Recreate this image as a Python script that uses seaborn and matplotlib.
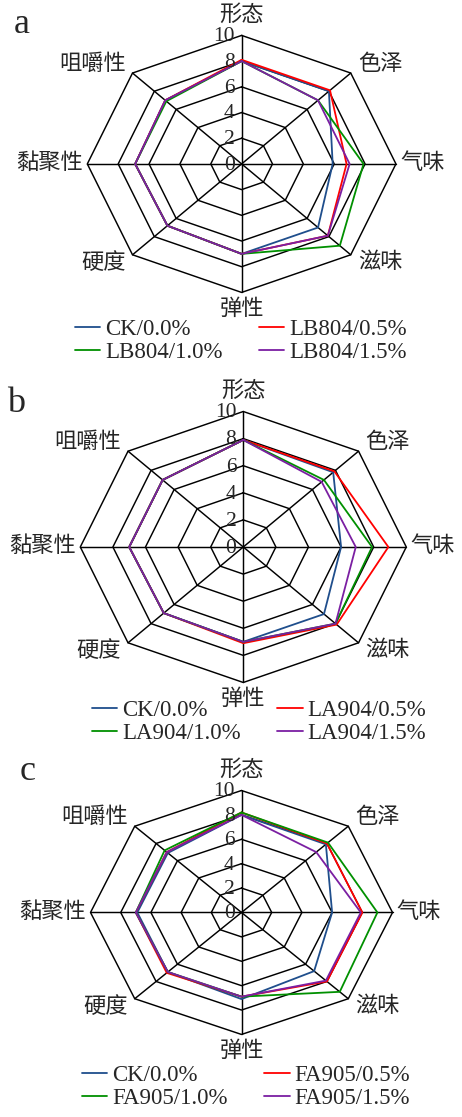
import numpy as np
import pandas as pd
import matplotlib
matplotlib.use('Agg')  # no display
import matplotlib.pyplot as plt
import seaborn as sns
from matplotlib.lines import Line2D

# ── Data ────────────────────────────────────────────────────────────────
categories = ['形态', '色泽', '气味', '滋味', '弹性', '硬度', '黏聚性', '咀嚼性']
rings = [0, 2, 4, 6, 8, 10]

a_labels = ['CK/0.0%', 'LB804/0.5%', 'LB804/1.0%', 'LB804/1.5%']
a_ck = [8.0, 8.0, 5.9, 7.0, 7.0, 6.8, 6.9, 7.0]
a_05 = [8.1, 8.1, 6.8, 7.9, 7.0, 6.8, 6.9, 7.0]
a_10 = [8.0, 7.0, 7.9, 9.0, 7.0, 6.8, 6.9, 6.9]
a_15 = [8.0, 7.0, 7.0, 7.9, 7.0, 6.8, 6.9, 7.0]

b_labels = ['CK/0.0%', 'LA904/0.5%', 'LA904/1.0%', 'LA904/1.5%']
b_ck = [7.9, 7.8, 6.0, 7.0, 7.0, 6.9, 7.0, 7.0]
b_05 = [7.9, 7.9, 8.9, 8.1, 7.1, 6.9, 7.0, 7.0]
b_10 = [7.9, 7.0, 7.9, 8.0, 7.0, 6.9, 7.0, 7.0]
b_15 = [7.9, 6.8, 6.9, 8.0, 7.0, 6.9, 7.0, 7.0]

c_labels = ['CK/0.0%', 'FA905/0.5%', 'FA905/1.0%', 'FA905/1.5%']
c_ck = [8.0, 7.9, 6.0, 6.8, 7.1, 6.9, 6.9, 6.9]
c_05 = [8.2, 8.0, 8.0, 8.0, 6.9, 7.0, 7.0, 7.0]
c_10 = [8.2, 8.1, 9.0, 9.2, 6.9, 6.9, 7.0, 7.2]
c_15 = [8.0, 7.0, 7.9, 7.9, 6.9, 6.9, 7.0, 7.0]

colors = ['#1F4E8C', '#FF0000', '#009000', '#7B1FA2']

# ── Style ───────────────────────────────────────────────────────────────
sns.set_theme(style='white')
plt.rcParams['font.family'] = ['Liberation Serif', 'Noto Sans CJK SC']
plt.rcParams['axes.unicode_minus'] = False

fig = plt.figure(figsize=(4.62, 11.17), dpi=100)

theta = np.linspace(0, 2 * np.pi, len(categories), endpoint=False)
closed = np.append(theta, 2 * np.pi)


def draw_panel(rect, letter, letter_xy, labels, series, leg_xy):
    ax = fig.add_axes(rect, projection='polar')
    ax.set_aspect('auto')
    ax.set_theta_zero_location('N')
    ax.set_theta_direction(-1)

    # octagon rings and spokes
    for r in rings[1:]:
        ax.plot(closed, [r] * len(closed), color='black', lw=1.05,
                clip_on=False, zorder=1)
    for t in theta:
        ax.plot([t, t], [0, 10], color='black', lw=1.05, clip_on=False, zorder=1)

    rows = []
    for name, vals in zip(labels, series):
        vals = list(vals) + [vals[0]]
        for t, v in zip(closed, vals):
            rows.append({'theta': t, 'score': v, 'group': name})
    df = pd.DataFrame(rows)
    sns.lineplot(data=df, x='theta', y='score', hue='group', hue_order=labels,
                 palette=colors, sort=False, estimator=None, legend=False,
                 lw=1.3, ax=ax, zorder=3)
    for ln in ax.lines:
        ln.set_clip_on(False)

    ax.set_ylim(0, 10)
    ax.set_xticks([])
    ax.set_yticks([])
    ax.grid(False)
    ax.spines['polar'].set_visible(False)
    ax.patch.set_alpha(0)
    ax.set_xlabel('')
    ax.set_ylabel('')

    # radial numbers along the top spoke
    for r in rings:
        ax.annotate(str(r), xy=(0, r), xytext=(-5, -1), textcoords='offset points',
                    ha='right', va='center', fontsize=15.5, annotation_clip=False,
                    zorder=4)

    # category labels
    for t, name in zip(theta, categories):
        sx, sy = np.sin(t), np.cos(t)
        if abs(sx) < 0.1:
            ha = 'center'
            va = 'bottom' if sy > 0 else 'top'
            off = (0, 7 if sy > 0 else -5)
        elif abs(sy) < 0.1:
            ha = 'left' if sx > 0 else 'right'
            va = 'center'
            off = (3 * np.sign(sx), 0)
        else:
            ha = 'left' if sx > 0 else 'right'
            va = 'center'
            off = (5 * np.sign(sx), 6 * np.sign(sy))
        ax.annotate(name, xy=(t, 10), xytext=off, textcoords='offset points',
                    ha=ha, va=va, fontsize=16, annotation_clip=False)

    fig.text(letter_xy[0], letter_xy[1], letter, fontsize=26,
             ha='left', va='center')

    handles = [Line2D([], [], color=c, lw=1.3) for c in colors]
    order = [0, 2, 1, 3]  # fill rows first
    ax.legend([handles[i] for i in order], [labels[i] for i in order],
              ncol=2, loc='upper left', bbox_to_anchor=leg_xy,
              bbox_transform=fig.transFigure, frameon=False, fontsize=16.5,
              handlelength=1.1, handletextpad=0.22, columnspacing=1.6,
              labelspacing=0.1, borderpad=0, borderaxespad=0)
    return ax


draw_panel([0.189, 0.7382, 0.668, 0.2301], 'a', (0.03, 0.978),
           a_labels, [a_ck, a_05, a_10, a_15], (0.162, 0.7144))
draw_panel([0.1738, 0.389, 0.7056, 0.2426], 'b', (0.016, 0.639),
           b_labels, [b_ck, b_05, b_10, b_15], (0.199, 0.3733))
draw_panel([0.1959, 0.0739, 0.6537, 0.2184], 'c', (0.043, 0.309),
           c_labels, [c_ck, c_05, c_10, c_15], (0.1775, 0.0466))

fig.savefig('out.png', dpi=100, facecolor='white')
